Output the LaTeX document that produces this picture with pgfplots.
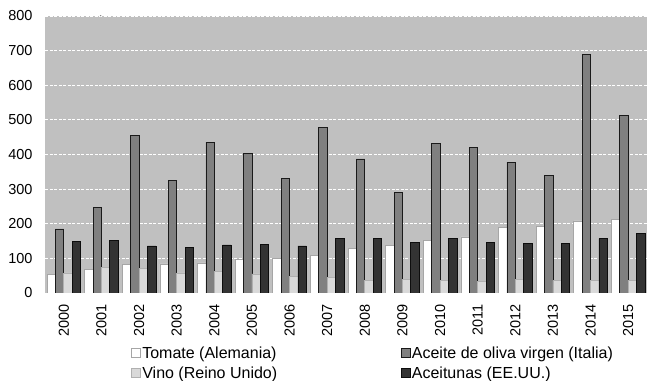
\documentclass[border=0pt]{standalone}
\usepackage{pgfplots}
\pgfplotsset{compat=1.18}
\usepackage{fontspec}
\setmainfont{Liberation Sans}
\definecolor{bg}{HTML}{C0C0C0}
\definecolor{tomF}{HTML}{FFFFFF}
\definecolor{tomD}{HTML}{A6A6A6}
\definecolor{aceF}{HTML}{808080}
\definecolor{aceD}{HTML}{1A1A1A}
\definecolor{vinF}{HTML}{D9D9D9}
\definecolor{vinD}{HTML}{B0B0B0}
\definecolor{acuF}{HTML}{333333}
\definecolor{acuD}{HTML}{0D0D0D}
\begin{document}
\begin{tikzpicture}
\begin{axis}[name=ax,
  scale only axis, width=602bp, height=277bp,
  ybar=0pt, bar width=8.4bp,
  xmin=-0.5, xmax=15.5, ymin=0, ymax=800,
  xtick={0,...,15},
  xticklabels={2000,2001,2002,2003,2004,2005,2006,2007,2008,2009,2010,2011,2012,2013,2014,2015},
  x tick label style={rotate=90, anchor=east, font=\fontsize{14.5bp}{16bp}\selectfont},
  xticklabel shift=8bp,
  ytick={0,100,...,800},
  y tick label style={font=\fontsize{14.5bp}{16bp}\selectfont},
  yticklabel shift=9bp,
  /pgf/number format/assume math mode=true,
  major tick length=0pt,
  axis background/.style={fill=bg},
  axis line style={draw=none},
  ymajorgrids,
  grid style={white, dash pattern=on 3bp off 1.5bp, line width=0.8bp},
  legend columns=2,
  legend cell align=left,
  legend image code/.code={\draw[#1,line width=0.6bp] (0bp,-4.5bp) rectangle (9bp,4.5bp);},
  legend style={at={(axis description cs:0.1429,-0.187)}, anchor=north west,
    draw=none, fill=none, inner sep=0pt, row sep=4bp,
    font=\fontsize{16bp}{18bp}\selectfont,
    nodes={inner sep=1.5bp},
  },
]
\addplot[fill=tomF, draw=tomD, line width=0.7bp] coordinates {(0,53)(1,69)(2,82)(3,84)(4,87)(5,98)(6,100)(7,108)(8,128)(9,137)(10,152)(11,162)(12,189)(13,193)(14,208)(15,212)};
\addlegendentry{\makebox[257bp][l]{Tomate (Alemania)}}
\addplot[fill=aceF, draw=aceD, line width=0.7bp] coordinates {(0,185)(1,248)(2,456)(3,324)(4,436)(5,402)(6,331)(7,479)(8,387)(9,291)(10,433)(11,420)(12,378)(13,339)(14,690)(15,512)};
\addlegendentry{Aceite de oliva virgen (Italia)}
\addplot[fill=vinF, draw=vinD, line width=0.7bp] coordinates {(0,58)(1,75)(2,72)(3,58)(4,62)(5,55)(6,49)(7,44)(8,37)(9,40)(10,37)(11,34)(12,40)(13,36)(14,37)(15,37)};
\addlegendentry{Vino (Reino Unido)}
\addplot[fill=acuF, draw=acuD, line width=0.7bp] coordinates {(0,149)(1,152)(2,136)(3,131)(4,139)(5,141)(6,136)(7,158)(8,157)(9,147)(10,158)(11,145)(12,142)(13,142)(14,157)(15,171)};
\addlegendentry{Aceitunas (EE.UU.)}
\draw[gray, line width=0.7bp] (rel axis cs:0.0914,1) -- ++(0,16bp);
\end{axis}
\pgfresetboundingbox
\path[use as bounding box] ([shift={(-45bp,-88bp)}]ax.south west) rectangle ([shift={(0bp,16bp)}]ax.north east);
\end{tikzpicture}
\end{document}
